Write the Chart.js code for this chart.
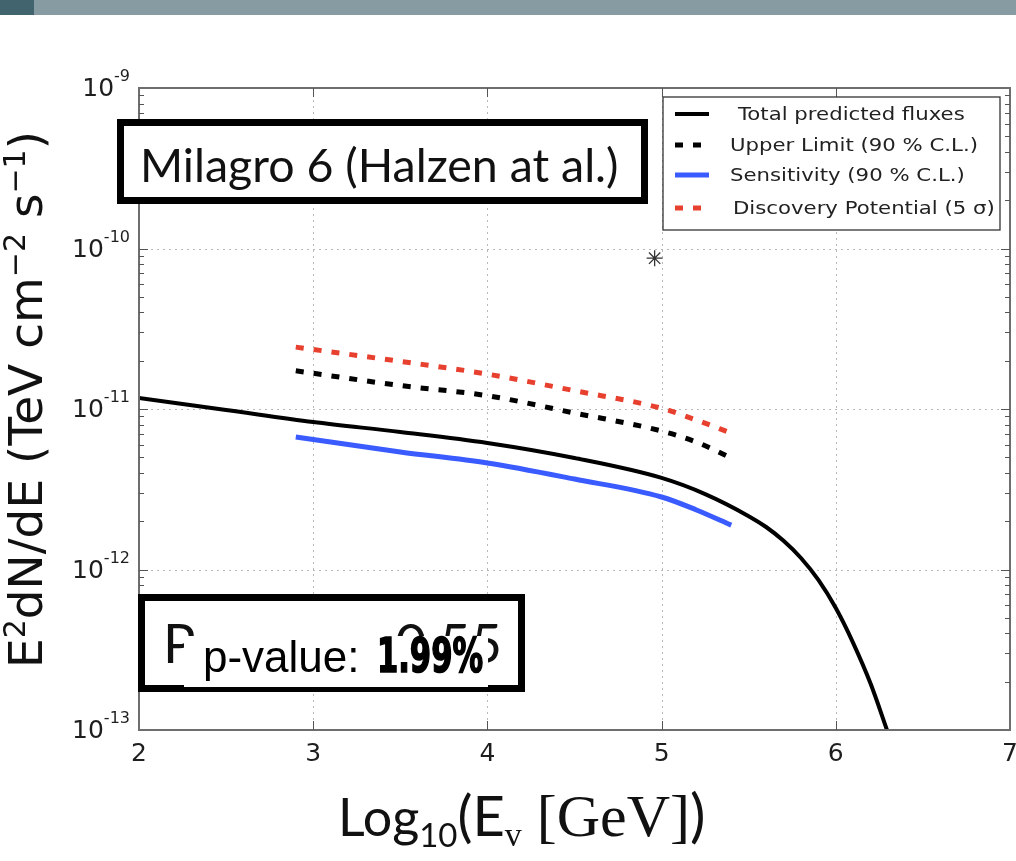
<!DOCTYPE html>
<html>
<head>
<meta charset="utf-8">
<script src="https://cdn.jsdelivr.net/npm/chart.js@4.4.0/dist/chart.umd.min.js"></script>
<style>
  html, body { margin: 0; padding: 0; background: #fff; }
  #wrap { position: relative; width: 1016px; height: 861px; overflow: hidden; }
  #bar { position: absolute; left: 0; top: 0; width: 1016px; height: 15px; background: #879ba3; }
  #bar span { position: absolute; left: 0; top: 0; width: 34px; height: 15px; background: #42646e; }
  canvas { position: absolute; left: 0; top: 0; }
</style>
</head>
<body>
<div id="wrap">
  <canvas id="flux" width="1016" height="861"></canvas>
  <div id="bar"><span></span></div>
</div>
<script>
/* ---------- Data ---------- */
var X_TICKS = [2, 3, 4, 5, 6, 7];
var Y_DECADES = [-13, -12, -11, -10, -9];

// total predicted flux, black solid
var LOG_E_TOTAL = [2.0, 2.5, 3.0, 3.5, 4.0, 4.5, 5.0, 5.25, 5.5, 5.6, 5.7, 5.8, 5.9, 6.0, 6.1, 6.2, 6.3];
var FLUX_TOTAL = [1.17e-11, 9.87e-12, 8.30e-12, 7.19e-12, 6.14e-12, 4.95e-12, 3.72e-12, 2.95e-12,
                  2.15e-12, 1.84e-12, 1.51e-12, 1.18e-12, 8.61e-13, 5.75e-13, 3.48e-13, 1.94e-13, 9.57e-14];

// limits share the same energy range
var LOG_E_LIMITS = [2.9, 3.5, 4.0, 4.5, 5.0, 5.2, 5.4];
var FLUX_UPPER = [1.73e-11, 1.40e-11, 1.21e-11, 9.44e-12, 7.29e-12, 6.22e-12, 4.95e-12];
var FLUX_SENS = [6.70e-12, 5.40e-12, 4.61e-12, 3.66e-12, 2.83e-12, 2.35e-12, 1.89e-12];
var FLUX_DISC = [2.43e-11, 1.98e-11, 1.65e-11, 1.30e-11, 1.01e-11, 8.53e-12, 7.08e-12];

// lone '*' marker
var STAR_X = [4.96];
var STAR_Y = [8.7e-11];

var LABELS = ['Total predicted fluxes', 'Upper Limit (90 % C.L.)', 'Sensitivity (90 % C.L.)', 'Discovery Potential (5 \u03c3)'];

function pts(xs, ys) {
  return xs.map(function (x, i) { return { x: x, y: ys[i] }; });
}

/* ---------- Helpers ---------- */
function drawRuns(ctx, runs, x, y) {
  runs.forEach(function (r) {
    ctx.font = r.font;
    ctx.fillText(r.t, x, y + (r.dy || 0));
    x += ctx.measureText(r.t).width;
  });
  return x;
}
function runsWidth(ctx, runs) {
  var w = 0;
  runs.forEach(function (r) { ctx.font = r.font; w += ctx.measureText(r.t).width; });
  return w;
}
function fitFont(ctx, text, family, weight, width) {
  ctx.font = weight + ' 100px ' + family;
  return 100 * width / ctx.measureText(text).width;
}
function hline(ctx, x1, y1, x2, y2) {
  ctx.beginPath(); ctx.moveTo(x1, y1); ctx.lineTo(x2, y2); ctx.stroke();
}
// the slide is a bit stretched sideways, so some text is too
function wideText(ctx, text, x, y, sx) {
  ctx.save();
  ctx.translate(x, y);
  ctx.scale(sx, 1);
  ctx.fillText(text, 0, 0);
  ctx.restore();
}

/* ---------- Plugin: grid, frame, ticks, labels, boxes ---------- */
var slidePlugin = {
  id: 'slide',
  beforeDatasetsDraw: function (chart) {
    var ctx = chart.ctx, a = chart.chartArea, xs = chart.scales.x, ys = chart.scales.y;
    ctx.save();
    ctx.strokeStyle = '#b8b8b8';
    ctx.lineWidth = 1;
    ctx.setLineDash([2, 4]);
    X_TICKS.slice(1, -1).forEach(function (v) {
      var px = Math.round(xs.getPixelForValue(v)) + 0.5;
      hline(ctx, px, a.top, px, a.bottom);
    });
    Y_DECADES.slice(1, -1).forEach(function (d) {
      var py = Math.round(ys.getPixelForValue(Math.pow(10, d))) + 0.5;
      hline(ctx, a.left, py, a.right, py);
    });
    ctx.restore();
  },
  afterDatasetsDraw: function (chart) {
    var ctx = chart.ctx, a = chart.chartArea, xs = chart.scales.x, ys = chart.scales.y;
    ctx.save();

    // frame
    ctx.strokeStyle = '#6e6e6e';
    ctx.lineWidth = 2;
    ctx.strokeRect(a.left, a.top, a.right - a.left, a.bottom - a.top);

    // inner ticks
    ctx.lineWidth = 1;
    ctx.strokeStyle = '#555';
    X_TICKS.slice(1, -1).forEach(function (v) {
      var px = Math.round(xs.getPixelForValue(v)) + 0.5;
      hline(ctx, px, a.bottom, px, a.bottom - 9);
      hline(ctx, px, a.top, px, a.top + 9);
    });
    for (var d = -13; d < -9; d++) {
      for (var m = 2; m <= 9; m++) {
        var py = Math.round(ys.getPixelForValue(m * Math.pow(10, d))) + 0.5;
        hline(ctx, a.left, py, a.left + 5, py);
        hline(ctx, a.right, py, a.right - 5, py);
      }
    }
    Y_DECADES.slice(1, -1).forEach(function (d) {
      var py = Math.round(ys.getPixelForValue(Math.pow(10, d))) + 0.5;
      hline(ctx, a.left, py, a.left + 9, py);
      hline(ctx, a.right, py, a.right - 9, py);
    });

    // tick labels
    ctx.fillStyle = '#1e1e1e';
    ctx.textBaseline = 'alphabetic';
    ctx.font = '25px "DejaVu Sans"';
    ctx.textAlign = 'center';
    X_TICKS.forEach(function (v) {
      ctx.fillText(String(v), xs.getPixelForValue(v), a.bottom + 31);
    });
    ctx.textAlign = 'left';
    Y_DECADES.forEach(function (d) {
      var py = ys.getPixelForValue(Math.pow(10, d));
      var runs = [
        { t: '10', font: '25px "DejaVu Sans"' },
        { t: String(d), font: '16px "DejaVu Sans"', dy: -15 }
      ];
      drawRuns(ctx, runs, 130 - runsWidth(ctx, runs), py + 8);
    });

    // legend
    ctx.fillStyle = '#fff';
    ctx.fillRect(663, 97, 337, 133);
    ctx.strokeStyle = '#333';
    ctx.lineWidth = 1.3;
    ctx.strokeRect(663, 97, 337, 133);
    var rowY = [114, 145, 175, 208];
    chart.data.datasets.slice(0, 4).forEach(function (ds, i) {
      ctx.strokeStyle = ds.borderColor;
      ctx.lineWidth = ds.borderWidth;
      ctx.setLineDash(ds.borderDash || []);
      hline(ctx, 675, rowY[i], 709, rowY[i]);
      ctx.setLineDash([]);
      ctx.fillStyle = '#222';
      ctx.font = '18px "DejaVu Sans"';
      ctx.textBaseline = 'middle';
      wideText(ctx, ds.label, i === 0 ? 738 : (i === 3 ? 733 : 730), rowY[i] + 1, 1.18);
    });
    ctx.textBaseline = 'alphabetic';

    // Milagro box
    ctx.fillStyle = '#fff';
    ctx.fillRect(120, 122, 525, 79);
    ctx.strokeStyle = '#000';
    ctx.lineWidth = 7;
    ctx.strokeRect(120.5, 122.5, 524, 78);
    ctx.fillStyle = '#111';
    var t1 = 'Milagro 6 (Halzen at al.)';
    ctx.font = fitFont(ctx, t1, 'Lato', 'normal', 479).toFixed(1) + 'px Lato';
    ctx.fillText(t1, 140, 182);

    // p-value box with the pasted-over label
    ctx.fillStyle = '#fff';
    ctx.fillRect(141, 598, 380, 90);
    ctx.strokeStyle = '#000';
    ctx.lineWidth = 7;
    ctx.strokeRect(141.5, 597.5, 380, 91);
    ctx.fillStyle = '#111';
    ctx.font = '54px Lato';
    ctx.fillText('P', 163, 663);
    ctx.textAlign = 'right';
    ctx.fillText('0.55', 502, 663);
    ctx.textAlign = 'left';
    ctx.fillStyle = '#fff';
    ctx.fillRect(184, 636, 304, 51);
    ctx.fillStyle = '#000';
    ctx.font = '44px "Liberation Sans"';
    ctx.fillText('p-value: ', 203, 672);
    var pv = '1.99%';
    ctx.font = 'bold 48px "Liberation Sans Narrow", "DejaVu Sans Condensed", sans-serif';
    var sx = 106 / ctx.measureText(pv).width;
    ctx.save();
    ctx.translate(377, 672);
    ctx.scale(sx, 1);
    ctx.strokeStyle = '#000';
    ctx.lineWidth = 1.6;
    ctx.fillText(pv, 0, 0);
    ctx.strokeText(pv, 0, 0);
    ctx.restore();

    // y axis title
    ctx.fillStyle = '#111';
    ctx.save();
    ctx.translate(42, 668);
    ctx.rotate(-Math.PI / 2);
    var yRuns = [
      { t: 'E', font: '47px "DejaVu Sans"' },
      { t: '2', font: '30px "DejaVu Sans"', dy: -17 },
      { t: 'dN/dE (TeV cm', font: '47px "DejaVu Sans"' },
      { t: '\u22122', font: '30px "DejaVu Sans"', dy: -17 },
      { t: ' s', font: '47px "DejaVu Sans"' },
      { t: '\u22121', font: '30px "DejaVu Sans"', dy: -17 },
      { t: ')', font: '47px "DejaVu Sans"' }
    ];
    drawRuns(ctx, yRuns, 0, 0);
    ctx.restore();

    // x axis title
    var xRuns = [
      { t: 'Log', font: '52px Lato' },
      { t: '10', font: '33px Lato', dy: 11 },
      { t: '(E', font: '56px Lato' },
      { t: 'v', font: '34px "Liberation Serif"', dy: 10 },
      { t: ' [GeV]', font: '60px "Liberation Serif"' },
      { t: ')', font: '58px Lato' }
    ];
    drawRuns(ctx, xRuns, 338, 836);

    ctx.restore();
  }
};

/* ---------- Chart ---------- */
var lineBase = { fill: false, pointRadius: 0, cubicInterpolationMode: 'monotone', borderCapStyle: 'butt' };

new Chart(document.getElementById('flux').getContext('2d'), {
  type: 'line',
  data: {
    datasets: [
      Object.assign({ label: LABELS[0], data: pts(LOG_E_TOTAL, FLUX_TOTAL), borderColor: '#000', borderWidth: 4 }, lineBase),
      Object.assign({ label: LABELS[1], data: pts(LOG_E_LIMITS, FLUX_UPPER), borderColor: '#000', borderWidth: 5, borderDash: [8, 10] }, lineBase),
      Object.assign({ label: LABELS[2], data: pts(LOG_E_LIMITS, FLUX_SENS), borderColor: '#3a5bff', borderWidth: 5 }, lineBase),
      Object.assign({ label: LABELS[3], data: pts(LOG_E_LIMITS, FLUX_DISC), borderColor: '#e8402f', borderWidth: 5, borderDash: [8, 10] }, lineBase),
      {
        type: 'scatter', label: 'star', data: pts(STAR_X, STAR_Y),
        pointStyle: 'star', pointRadius: 8, borderColor: '#333', borderWidth: 1.3, backgroundColor: '#333'
      }
    ]
  },
  options: {
    responsive: false,
    animation: false,
    devicePixelRatio: 1,
    layout: { autoPadding: false, padding: { left: 139, top: 88, right: 6, bottom: 131 } },
    plugins: { legend: { display: false }, tooltip: { enabled: false } },
    scales: {
      x: {
        type: 'linear', min: 2, max: 7,
        ticks: { display: false },
        grid: { display: false, drawTicks: false },
        border: { display: false }
      },
      y: {
        type: 'logarithmic', min: 1e-13, max: 1e-9,
        ticks: { display: false },
        grid: { display: false, drawTicks: false },
        border: { display: false }
      }
    }
  },
  plugins: [slidePlugin]
});
</script>
</body>
</html>
